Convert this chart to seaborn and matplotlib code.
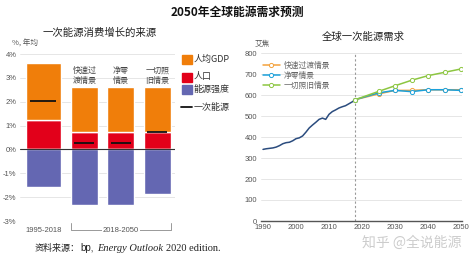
import matplotlib
matplotlib.use("Agg")
import matplotlib.pyplot as plt
import seaborn as sns
from matplotlib.patches import Rectangle
from matplotlib.lines import Line2D

# left panel: sources of primary energy growth (% per year)
periods = ["1995-2018", "快速过渡情景", "净零情景", "一切照旧情景"]
period_labels = ["", "快速过\n渡情景", "净零\n情景", "一切照\n旧情景"]
gdp_per_capita = [2.37, 1.89, 1.89, 1.89]
population = [1.25, 0.73, 0.73, 0.73]
energy_intensity = [-1.57, -2.33, -2.33, -1.87]
primary_energy = [2.04, 0.25, 0.25, 0.71]

# right panel: global primary energy demand (EJ)
hist_years = list(range(1990, 2019))
hist_demand = [341, 344, 346, 348, 352, 359, 368, 373, 375, 382,
               392, 396, 405, 423, 443, 457, 470, 484, 490, 484,
               508, 521, 529, 538, 544, 549, 558, 567, 578]
scen_years = [2018, 2025, 2030, 2035, 2040, 2045, 2050]
rapid = [578, 605, 622, 622, 625, 625, 625]
net_zero = [578, 610, 622, 616, 625, 625, 622]
bau = [578, 617, 644, 670, 692, 708, 724]

CJK = ["Noto Sans CJK SC", "DejaVu Sans"]
ORANGE, RED, BLUE = "#F07E0A", "#E2001A", "#6467B2"
TXT = "#555555"
GRID = "#e2e2e2"

sns.set_style("white")
plt.rcParams["font.family"] = CJK

W, H = 474, 262
fx = lambda px: px / W
fy = lambda py: 1 - py / H

fig = plt.figure(figsize=(4.74, 2.62), dpi=100)
ax1 = fig.add_axes([fx(20), fy(221), 155 / W, 167 / H])
ax2 = fig.add_axes([fx(260.7), fy(221), 201.3 / W, 168 / H])

fig.text(0.5, fy(12), "2050年全球能源需求预测", ha="center", va="center",
         fontsize=8.5, fontweight="bold", color="#111111")

# ---- left: stacked bars ----
pos = [0, 1.12, 2.12, 3.12]
widths = [0.96, 0.74, 0.74, 0.74]
ax1.bar(pos, population, width=widths, color=RED, zorder=2)
ax1.bar(pos, gdp_per_capita, width=widths, bottom=population, color=ORANGE, zorder=2)
ax1.bar(pos, energy_intensity, width=widths, color=BLUE, zorder=2)
for p, w, v in zip(pos, widths, primary_energy):
    ax1.hlines(v, p - w * 0.37, p + w * 0.37, color="#111111", lw=1.3, zorder=3)
ax1.axhline(0, color="#333333", lw=0.8, zorder=3)

ax1.set_xlim(-0.64, 3.6)
ax1.set_ylim(-3, 4)
ax1.set_yticks(range(-3, 5))
ax1.set_yticklabels([f"{v}%" for v in range(-3, 5)], fontsize=5.5, color=TXT,
                    family=["Liberation Sans"])
ax1.set_xticks([])
ax1.tick_params(axis="y", length=0, pad=2.5)
ax1.grid(axis="y", color=GRID, lw=0.6, zorder=0)
for s in ax1.spines.values():
    s.set_visible(False)

for p, lab in zip(pos, period_labels):
    if lab:
        ax1.text(p, 2.72, lab, ha="center", va="bottom", fontsize=5.8,
                 color="#444444", linespacing=1.15)

ax1.text(0, -3.38, periods[0], ha="center", va="center", fontsize=5.5,
         color=TXT, family=["Liberation Sans"], clip_on=False)
bl = pos[1] - widths[1] / 2
br = pos[3] + widths[3] / 2
ax1.plot([bl, bl, br, br], [-3.08, -3.38, -3.38, -3.08], color="#999999",
         lw=0.7, clip_on=False)
ax1.text((bl + br) / 2, -3.38, "2018-2050", ha="center", va="center",
         fontsize=5.5, color=TXT, family=["Liberation Sans"], clip_on=False,
         bbox=dict(facecolor="white", edgecolor="none", pad=0.6))

fig.text(fx(100), fy(33), "一次能源消费增长的来源", ha="center", va="center",
         fontsize=7.5, color="#222222")
fig.text(fx(12), fy(44), "%, 年均", ha="left", va="center", fontsize=5.5, color=TXT)

# manual legend for the bars
for y, col, lab in [(59, ORANGE, "人均GDP"), (77, RED, "人口"), (89, BLUE, "能源强度")]:
    fig.add_artist(Rectangle((fx(182), fy(y + 4.5)), 10 / W, 9 / H,
                             transform=fig.transFigure, color=col))
    fig.text(fx(194), fy(y), lab, ha="left", va="center", fontsize=6.5, color="#333333")
fig.add_artist(Line2D([fx(181), fx(192)], [fy(107), fy(107)],
                      transform=fig.transFigure, color="#111111", lw=1.3))
fig.text(fx(194), fy(107), "一次能源", ha="left", va="center", fontsize=6.5, color="#333333")

# ---- right: demand lines ----
sns.lineplot(x=hist_years, y=hist_demand, ax=ax2, color="#2B4C7E", lw=1.1)
for name, vals, col in [("快速过渡情景", rapid, "#F4A23C"),
                        ("净零情景", net_zero, "#1BA1DB"),
                        ("一切照旧情景", bau, "#8DC641")]:
    sns.lineplot(x=scen_years, y=vals, ax=ax2, color=col, lw=1.1, marker="o",
                 markersize=3, markerfacecolor="white", markeredgecolor=col,
                 markeredgewidth=0.7, label=name)
ax2.axvline(2018, color="#999999", lw=0.8, ls=(0, (2, 2)), zorder=1)

ax2.set_xlim(1989.3, 2050.3)
ax2.set_ylim(0, 800)
ax2.set_xticks(range(1990, 2051, 10))
ax2.set_yticks(range(0, 801, 100))
ax2.tick_params(length=0, labelsize=5.5, labelcolor=TXT, pad=2.5)
for lab in ax2.get_xticklabels() + ax2.get_yticklabels():
    lab.set_family(["Liberation Sans"])
ax2.grid(axis="y", color=GRID, lw=0.6, zorder=0)
for k, s in ax2.spines.items():
    s.set_visible(k == "bottom")
ax2.spines["bottom"].set_color("#555555")
ax2.spines["bottom"].set_linewidth(1.0)
ax2.set_xlabel("")
ax2.set_ylabel("")

leg = ax2.legend(loc="upper left", bbox_to_anchor=(fx(258), fy(57)),
                 bbox_transform=fig.transFigure, frameon=False, fontsize=5.6,
                 labelspacing=0.25, handlelength=2.2, handletextpad=0.5,
                 borderpad=0.1)
for t in leg.get_texts():
    t.set_color("#666666")

fig.text(fx(363), fy(37), "全球一次能源需求", ha="center", va="center",
         fontsize=7.5, color="#222222")
fig.text(fx(255), fy(44), "艾焦", ha="left", va="center", fontsize=5.5, color=TXT)

# source line
t0 = fig.text(fx(35), fy(253), "资料来源：", ha="left", va="bottom",
              fontsize=6.5, color="#222222")
t1 = ax1.annotate("bp,", xy=(1, 0), xycoords=t0, xytext=(0.5, 0),
                  textcoords="offset points", va="bottom", fontsize=7,
                  family=["Liberation Sans"], color="#222222", annotation_clip=False)
t2 = ax1.annotate("Energy Outlook", xy=(1, 0), xycoords=t1, xytext=(2, 0),
                  textcoords="offset points", va="bottom", fontsize=7.5,
                  family=["Liberation Serif"], style="italic", color="#222222",
                  annotation_clip=False)
ax1.annotate("2020 edition.", xy=(1, 0), xycoords=t2, xytext=(2, 0),
             textcoords="offset points", va="bottom", fontsize=7.5,
             family=["Liberation Serif"], color="#222222", annotation_clip=False)

fig.text(fx(412), fy(243), "知乎 @全说能源", ha="center", va="center",
         fontsize=10, color="#cccccc")

fig.savefig("out.png", dpi=100)
